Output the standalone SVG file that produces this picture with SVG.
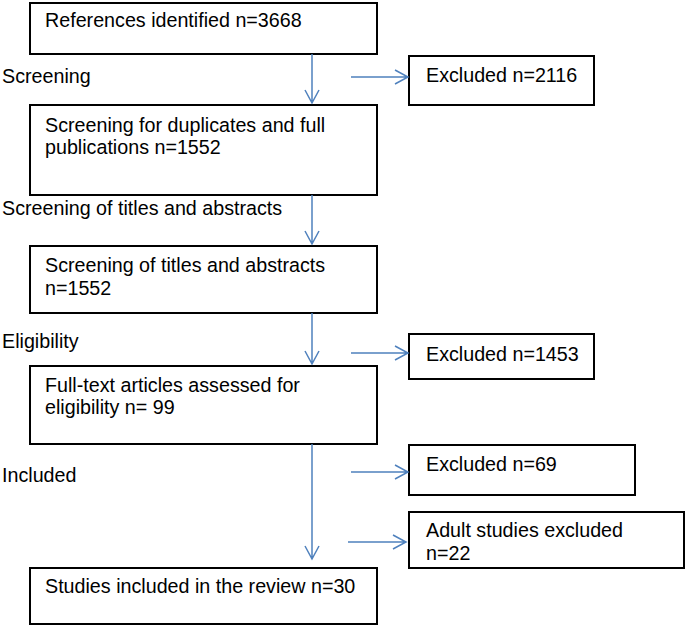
<svg xmlns="http://www.w3.org/2000/svg" width="685" height="626" viewBox="0 0 685 626">
<style>
.box{fill:#fff;stroke:#000;stroke-width:2}
text{font-family:"Liberation Sans",Arial,sans-serif;font-size:19.7px;fill:#000}
.arr{stroke:#4f81bd;stroke-width:1.5;fill:none}
</style>
<rect width="685" height="626" fill="#fff"/>
<g id="labels">
<text x="2" y="83">Screening</text>
<text x="2" y="215">Screening of titles and abstracts</text>
<text x="2" y="348">Eligibility</text>
<text x="2" y="482">Included</text>
</g>
<g id="n1"><rect class="box" x="30" y="3" width="347" height="51"/><text x="45" y="27">References identified n=3668</text></g>
<g id="n2"><rect class="box" x="30" y="105" width="347" height="90"/><text x="45" y="132">Screening for duplicates and full</text><text x="45" y="154">publications n=1552</text></g>
<g id="n3"><rect class="box" x="30" y="246" width="347" height="67"/><text x="45" y="272">Screening of titles and abstracts</text><text x="45" y="295">n=1552</text></g>
<g id="n4"><rect class="box" x="30" y="366" width="347" height="78"/><text x="45" y="392">Full-text articles assessed for</text><text x="45" y="414">eligibility n= 99</text></g>
<g id="n5"><rect class="box" x="30" y="568" width="347" height="56"/><text x="45" y="593">Studies included in the review n=30</text></g>
<g id="e1"><rect class="box" x="409" y="56" width="185" height="49"/><text x="426" y="82">Excluded n=2116</text></g>
<g id="e2"><rect class="box" x="409" y="334" width="185" height="45"/><text x="426" y="361">Excluded n=1453</text></g>
<g id="e3"><rect class="box" x="409" y="445" width="226" height="50"/><text x="426" y="471">Excluded n=69</text></g>
<g id="e4"><rect class="box" x="409" y="512" width="275" height="56"/><text x="426" y="537">Adult studies excluded</text><text x="426" y="560">n=22</text></g>
<g id="connectors">
<path class="arr" d="M312 54V103M305 90L312 103L319 90"/>
<path class="arr" d="M312 195V244M305 231L312 244L319 231"/>
<path class="arr" d="M312 313V364M305 351L312 364L319 351"/>
<path class="arr" d="M312 444V559M305 546L312 559L319 546"/>
<path class="arr" d="M351 77H408M395 70L408 77L395 84"/>
<path class="arr" d="M351 353H408M395 346L408 353L395 360"/>
<path class="arr" d="M351 472H408M395 465L408 472L395 479"/>
<path class="arr" d="M348 542H406M393 535L406 542L393 549"/>
</g>
</svg>
